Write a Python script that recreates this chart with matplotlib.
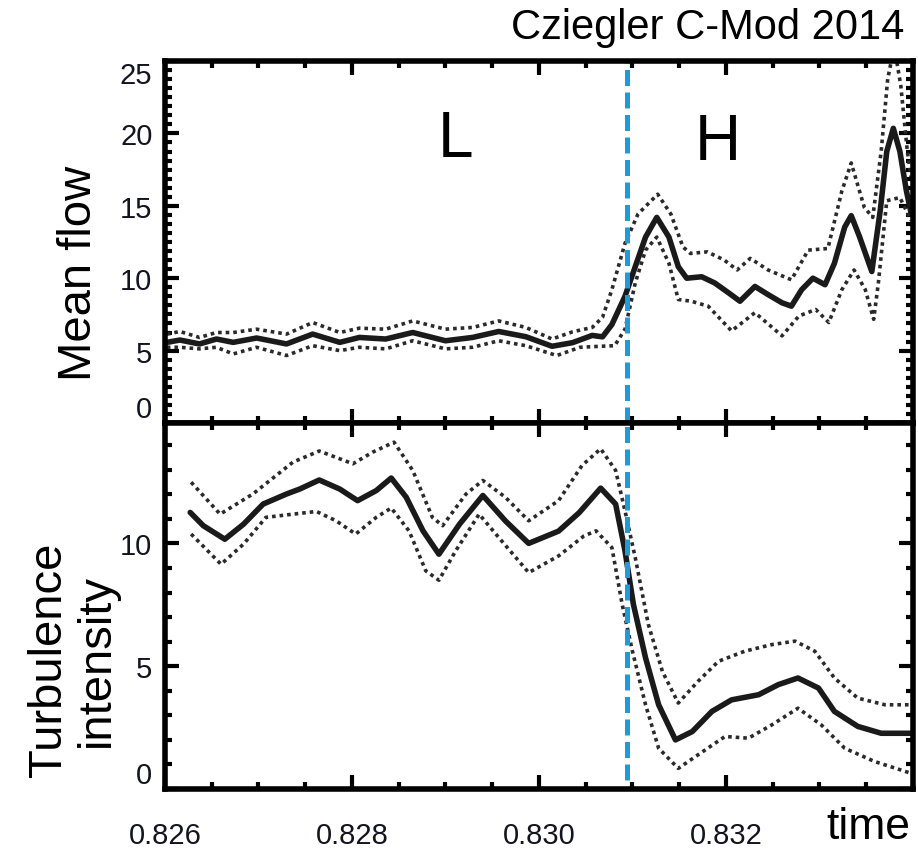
import numpy as np
import matplotlib
matplotlib.use("Agg")
import matplotlib.pyplot as plt
from matplotlib.ticker import MultipleLocator

plt.rcParams['font.family'] = ['Liberation Sans', 'DejaVu Sans']

# ---- data ----
# top panel: mean flow (solid) and upper/lower envelopes (dotted)
t_flow = [0.82602, 0.82616, 0.82637, 0.82655, 0.82673, 0.82698, 0.82730, 0.82758,
          0.82787, 0.82808, 0.82836, 0.82865, 0.82900, 0.82929, 0.82957, 0.82986,
          0.83014, 0.83036, 0.83057, 0.83068, 0.83078, 0.83092, 0.83103, 0.83114,
          0.83126, 0.83139, 0.83149, 0.83158, 0.83174, 0.83188, 0.83203, 0.83215,
          0.83231, 0.83245, 0.83260, 0.83270, 0.83281, 0.83293, 0.83306, 0.83316,
          0.83327, 0.83334, 0.83343, 0.83356, 0.83365, 0.83372, 0.83379, 0.83386,
          0.83393, 0.83398]
flow = [5.57, 5.73, 5.46, 5.80, 5.57, 5.87, 5.46, 6.14,
        5.57, 5.91, 5.80, 6.25, 5.68, 5.91, 6.32, 5.96,
        5.30, 5.55, 6.05, 5.95, 6.80, 8.75, 10.8, 12.84,
        14.2, 12.84, 10.8, 10.0, 10.1, 9.67, 8.98, 8.41,
        9.43, 8.87, 8.30, 8.07, 9.21, 10.0, 9.55, 11.03,
        13.53, 14.32, 12.84, 10.46, 14.67, 18.76, 20.35, 18.76,
        16.03, 14.5]

t_flow_hi = [0.82602, 0.82616, 0.82637, 0.82655, 0.82673, 0.82698, 0.82730, 0.82758,
             0.82787, 0.82808, 0.82836, 0.82865, 0.82900, 0.82929, 0.82957, 0.82986,
             0.83014, 0.83036, 0.83057, 0.83068, 0.83078, 0.83092, 0.83106, 0.83127,
             0.83141, 0.83154, 0.83162, 0.83180, 0.83198, 0.83212, 0.83226, 0.83245,
             0.83270, 0.83288, 0.83309, 0.83324, 0.83334, 0.83348, 0.83357, 0.83366,
             0.83373, 0.83380, 0.83387, 0.83394, 0.83398]
flow_hi = [6.14, 6.32, 5.91, 6.25, 6.25, 6.48, 6.14, 6.94,
           6.25, 6.55, 6.48, 7.05, 6.48, 6.60, 7.05, 6.60,
           5.80, 6.30, 6.60, 7.30, 9.21, 12.4, 14.44, 15.8,
           14.44, 12.16, 11.71, 11.82, 11.26, 10.57, 11.37, 10.57,
           9.89, 11.94, 12.05, 16.03, 17.96, 14.89, 14.2, 18.76,
           23.76, 26.0, 23.3, 18.76, 17.0]

t_flow_lo = [0.82602, 0.82616, 0.82637, 0.82655, 0.82673, 0.82698, 0.82730, 0.82758,
             0.82787, 0.82808, 0.82836, 0.82865, 0.82900, 0.82929, 0.82957, 0.82986,
             0.83019, 0.83044, 0.83066, 0.83081, 0.83092, 0.83103, 0.83114, 0.83126,
             0.83139, 0.83149, 0.83163, 0.83181, 0.83206, 0.83231, 0.83260, 0.83278,
             0.83296, 0.83310, 0.83324, 0.83337, 0.83349, 0.83358, 0.83363, 0.83372,
             0.83386, 0.83398]
flow_lo = [5.23, 5.23, 5.12, 5.23, 4.77, 5.23, 4.66, 5.34,
           5.00, 5.23, 5.12, 5.68, 5.12, 5.23, 5.68, 5.34,
           4.66, 5.23, 5.30, 5.34, 6.48, 9.67, 11.94, 12.84,
           11.03, 8.53, 8.41, 8.07, 6.36, 7.62, 6.02, 7.39,
           7.84, 6.94, 9.21, 10.57, 9.21, 7.16, 9.67, 15.35,
           15.57, 14.0]

# bottom panel: turbulence intensity (solid) and envelopes (dotted)
t_turb = [0.82627, 0.82641, 0.82664, 0.82684, 0.82705, 0.82730, 0.82744, 0.82765,
          0.82787, 0.82806, 0.82826, 0.82842, 0.82858, 0.82876, 0.82893, 0.82915,
          0.82940, 0.82964, 0.82989, 0.83021, 0.83043, 0.83066, 0.83082, 0.83092,
          0.83101, 0.83114, 0.83128, 0.83146, 0.83164, 0.83185, 0.83206, 0.83235,
          0.83256, 0.83277, 0.83299, 0.83316, 0.83341, 0.83366, 0.83398]
turb = [11.26, 10.72, 10.17, 10.78, 11.60, 12.01, 12.21, 12.58,
        12.21, 11.74, 12.15, 12.66, 11.88, 10.51, 9.56, 10.78,
        11.95, 10.92, 10.00, 10.50, 11.25, 12.25, 11.60, 9.70,
        7.52, 5.34, 3.43, 2.00, 2.34, 3.16, 3.63, 3.84,
        4.25, 4.52, 4.11, 3.16, 2.55, 2.27, 2.27]

t_turb_hi = [0.82628, 0.82659, 0.82694, 0.82737, 0.82765, 0.82801, 0.82822, 0.82845,
             0.82865, 0.82886, 0.82897, 0.82922, 0.82940, 0.82964, 0.82989, 0.83021,
             0.83046, 0.83066, 0.83082, 0.83092, 0.83103, 0.83117, 0.83132, 0.83149,
             0.83170, 0.83192, 0.83220, 0.83249, 0.83274, 0.83295, 0.83316, 0.83341,
             0.83370, 0.83398]
turb_hi = [12.49, 11.19, 12.01, 13.31, 13.76, 13.24, 13.71, 14.12,
           12.97, 11.06, 10.72, 12.01, 12.56, 11.88, 10.92, 11.74,
           13.17, 13.85, 12.97, 11.33, 9.42, 6.70, 4.79, 3.50,
           4.38, 5.20, 5.61, 5.88, 6.02, 5.61, 4.52, 3.70,
           3.43, 3.43]

t_turb_lo = [0.82628, 0.82660, 0.82684, 0.82708, 0.82737, 0.82762, 0.82783, 0.82804,
             0.82826, 0.82842, 0.82861, 0.82879, 0.82893, 0.82911, 0.82936, 0.82957,
             0.82989, 0.83021, 0.83048, 0.83061, 0.83078, 0.83089, 0.83100, 0.83114,
             0.83128, 0.83149, 0.83170, 0.83199, 0.83224, 0.83249, 0.83277, 0.83302,
             0.83327, 0.83359, 0.83398]
turb_lo = [10.38, 9.15, 9.97, 11.06, 11.19, 11.30, 10.92, 10.38,
           11.06, 11.44, 10.51, 8.88, 8.50, 9.70, 11.19, 10.24,
           8.81, 9.49, 10.30, 10.51, 9.83, 7.52, 5.61, 3.43,
           1.66, 0.84, 1.39, 2.14, 2.07, 2.61, 3.29, 2.61,
           1.66, 1.12, 0.64]

t_transition = 0.83094
x_ticks = [0.826, 0.828, 0.830, 0.832]
x_ticklabels = ['0.826', '0.828', '0.830', '0.832']

# ---- figure ----
fig = plt.figure(figsize=(9.18, 8.54), dpi=100)
ax1 = fig.add_axes([0.1797, 0.5035, 0.8148, 0.4239])
ax2 = fig.add_axes([0.1797, 0.0749, 0.8148, 0.4286], sharex=ax1)

solid_kw = dict(color='#1a1a1a', lw=4.0, solid_capstyle='round',
                solid_joinstyle='round')
dot_kw = dict(color='#2a2a2a', lw=2.6, dashes=(1, 1.1), dash_capstyle='butt')
blue = '#1f9bd7'

ax1.plot(t_flow_hi, flow_hi, **dot_kw)
ax1.plot(t_flow_lo, flow_lo, **dot_kw)
ax1.plot(t_flow, flow, **solid_kw)
ax1.axvline(t_transition, color=blue, lw=3.6, dashes=(3.2, 1.3))

ax2.plot(t_turb_hi, turb_hi, **dot_kw)
ax2.plot(t_turb_lo, turb_lo, **dot_kw)
ax2.plot(t_turb, turb, **solid_kw)
ax2.axvline(t_transition, ymin=0.025, color=blue, lw=3.6, dashes=(3.2, 1.3))

ax1.set_xlim(0.826, 0.834)
ax1.set_ylim(0, 25)
ax2.set_ylim(0, 14.9)

tick_font = ['Liberation Sans Narrow', 'Liberation Sans', 'DejaVu Sans']
for ax in (ax1, ax2):
    for s in ax.spines.values():
        s.set_linewidth(4)
    ax.tick_params(which='both', direction='in', top=True, right=True,
                   width=3, colors='black', labelsize=21, labelcolor='#141420')
    ax.tick_params(which='major', length=10)
    ax.tick_params(which='minor', length=5)
    ax.tick_params(axis='y', pad=9)
    ax.tick_params(axis='x', pad=23)
    ax.xaxis.set_minor_locator(MultipleLocator(0.0005))

ax1.set_yticks([0, 5, 10, 15, 20, 25])
ax1.yaxis.set_minor_locator(MultipleLocator(0.625))
ax2.set_yticks([0, 5, 10])
ax2.yaxis.set_minor_locator(MultipleLocator(1))
ax2.set_xticks(x_ticks)
ax2.set_xticklabels(x_ticklabels)
ax1.tick_params(labelbottom=False)

for ax in (ax1, ax2):
    for lab in ax.get_yticklabels() + ax.get_xticklabels():
        lab.set_family(tick_font)
labs1 = ax1.get_yticklabels()
labs1[0].set_va('bottom')
labs1[-1].set_va('top')
ax2.get_yticklabels()[0].set_va('bottom')

ax1.set_ylabel('Mean flow', fontsize=34)
ax1.yaxis.set_label_coords(-0.085, 0.417)
ax2.set_ylabel('Turbulence\nintensity', fontsize=34, linespacing=1.1)
ax2.yaxis.set_label_coords(-0.062, 0.355)
ax2.set_xlabel('time', fontsize=32)
ax2.xaxis.set_label_coords(0.94, -0.045)

ax1.text(0.388, 0.785, 'L', transform=ax1.transAxes, fontsize=46,
         ha='center', va='center')
ax1.text(0.739, 0.775, 'H', transform=ax1.transAxes, fontsize=46,
         ha='center', va='center')
fig.text(0.9847, 0.967, 'Cziegler C-Mod 2014', fontsize=30, ha='right', va='center')

fig.savefig('out.png', dpi=100)
